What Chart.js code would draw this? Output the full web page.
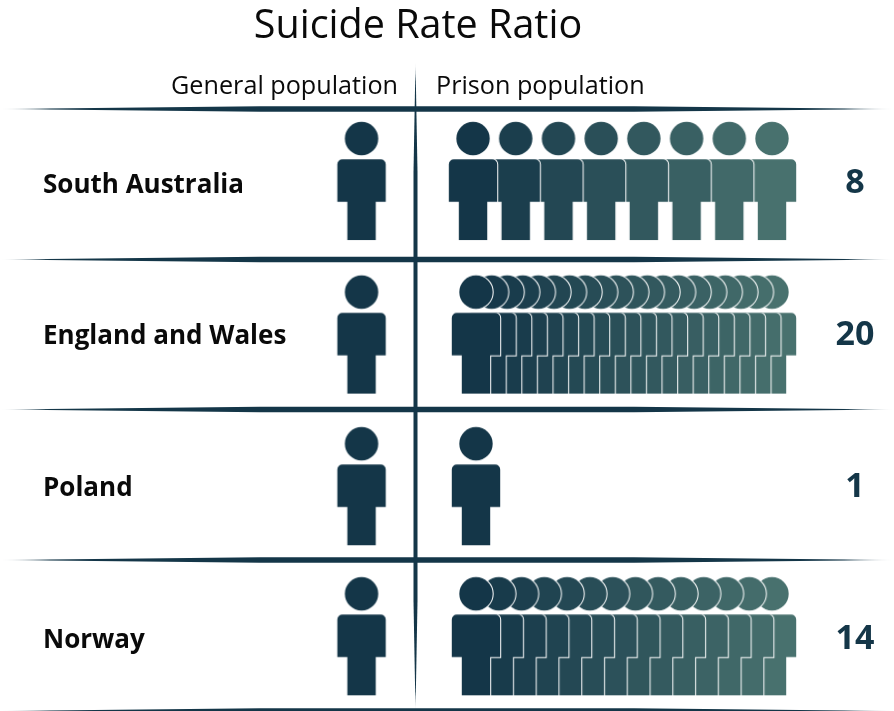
<!DOCTYPE html>
<html>
<head>
<meta charset="utf-8">
<title>Suicide Rate Ratio</title>
<script src="https://cdn.jsdelivr.net/npm/chart.js@4"></script>
<style>
    html, body { margin: 0; padding: 0; background: #FFFFFF; }
    canvas { display: block; }
</style>
</head>
<body>
<canvas id="ratioChart" width="894" height="711"></canvas>
<script>
const chartTitle = 'Suicide Rate Ratio';
const columnHeaders = ['General population', 'Prison population'];
const countries = ['South Australia', 'England and Wales', 'Poland', 'Norway'];
const generalRatio = [1, 1, 1, 1];
const prisonRatio = [8, 20, 1, 14];

// Layout: x runs 0..1 from the first to the last prison figure, y is the row index
const GENERAL_X = -0.3868;
const ROW_SHIFT = [-0.027, -0.016, -0.018, -0.03];
const PRISON_START = [-0.01, 0, 0, 0];
const RULES_Y = [109, 259.5, 409.5, 560, 711];
const ROW_MIN = -1.1463;
const ROW_MAX = 3.3893;
const RATIO_MIN = -1.1331;
const RATIO_MAX = 3.4025;
const DARK = [20, 54, 72];
const LIGHT = [72, 113, 110];
const INK = 'rgb(20, 54, 72)';
const FONT = "'Open Sans', Lato, sans-serif";

// One figure, drawn once per colour and used as a point style
function personIcon(color) {
    const icon = document.createElement('canvas');
    icon.width = 54;
    icon.height = 126;
    const c = icon.getContext('2d');
    c.translate(27, 63);

    c.beginPath();
    c.arc(0, -42.5, 16.7, 0, Math.PI * 2);
    c.moveTo(-19.2, -21.7);
    c.lineTo(19.2, -21.7);
    c.arcTo(24.2, -21.7, 24.2, -16.7, 5);
    c.lineTo(24.2, 20.7);
    c.lineTo(14.2, 20.7);
    c.lineTo(14.2, 59);
    c.lineTo(-14.2, 59);
    c.lineTo(-14.2, 20.7);
    c.lineTo(-24.2, 20.7);
    c.lineTo(-24.2, -16.7);
    c.arcTo(-24.2, -21.7, -19.2, -21.7, 5);
    c.closePath();

    c.strokeStyle = '#FFFFFF';
    c.lineWidth = 2;
    c.stroke();
    c.fillStyle = color;
    c.fill();
    return icon;
}

function shade(t) {
    const rgb = DARK.map((d, k) => Math.round(d + (LIGHT[k] - d) * t));
    return 'rgb(' + rgb.join(',') + ')';
}

const generalPoints = [];
const generalStyles = [];
countries.forEach((name, row) => {
    for (let i = 0; i < generalRatio[row]; i++) {
        generalPoints.push({ x: GENERAL_X, y: row + ROW_SHIFT[row] });
        generalStyles.push(personIcon(shade(0)));
    }
});

// Front figure is the first one, so each row goes back to front
const prisonSets = countries.map((name, row) => {
    const n = prisonRatio[row];
    const points = [];
    const styles = [];
    for (let i = n - 1; i >= 0; i--) {
        const t = n > 1 ? i / (n - 1) : 0;
        const start = PRISON_START[row];
        points.push({ x: start + (1 - start) * t, y: row + ROW_SHIFT[row] });
        styles.push(personIcon(shade(t)));
    }
    return { label: name, data: points, pointStyle: styles, pointRadius: 10, showLine: false };
});

function taperedRule(c, x0, y0, x1, y1, half, ramp, fade) {
    const len = Math.hypot(x1 - x0, y1 - y0);
    const ux = (x1 - x0) / len, uy = (y1 - y0) / len;
    const nx = -uy * half, ny = ux * half;
    const ax = x0 + ux * ramp, ay = y0 + uy * ramp;
    const bx = x1 - ux * ramp, by = y1 - uy * ramp;
    const grad = c.createLinearGradient(x0, y0, x1, y1);
    const edge = fade / len;
    grad.addColorStop(0, 'rgba(20, 54, 72, 0)');
    grad.addColorStop(edge, INK);
    grad.addColorStop(1 - edge, INK);
    grad.addColorStop(1, 'rgba(20, 54, 72, 0)');
    c.fillStyle = grad;
    c.beginPath();
    c.moveTo(x0, y0);
    c.lineTo(ax + nx, ay + ny);
    c.lineTo(bx + nx, by + ny);
    c.lineTo(x1, y1);
    c.lineTo(bx - nx, by - ny);
    c.lineTo(ax - nx, ay - ny);
    c.closePath();
    c.fill();
}

const headerPlugin = {
    id: 'headerPlugin',
    beforeDatasetsDraw(chart) {
        const c = chart.ctx;
        c.save();
        RULES_Y.forEach(y => taperedRule(c, 0, y, chart.width, y, 2.8, 260, 50));
        taperedRule(c, 415.5, 62, 415.5, 711, 2, 110, 20);
        c.restore();
    },
    afterDraw(chart) {
        const c = chart.ctx;
        c.save();
        c.fillStyle = '#0A0A0A';
        c.textBaseline = 'alphabetic';
        c.font = '39.5px ' + FONT;
        c.textAlign = 'center';
        c.fillText(chartTitle, 418, 38);
        c.font = '25.2px ' + FONT;
        c.textAlign = 'right';
        c.fillText(columnHeaders[0], 398, 94);
        c.textAlign = 'left';
        c.fillText(columnHeaders[1], 436, 94);
        c.restore();
    }
};

function rowTicks(scale) {
    scale.ticks = countries.map((name, row) => ({ value: row }));
}

function fitAxis(width) {
    return scale => {
        scale.width = width;
        scale.paddingTop = 0;
        scale.paddingBottom = 0;
    };
}

new Chart(document.getElementById('ratioChart'), {
    type: 'scatter',
    data: {
        datasets: [
            { label: columnHeaders[0], data: generalPoints, pointStyle: generalStyles, pointRadius: 10, showLine: false },
            ...prisonSets
        ]
    },
    options: {
        responsive: false,
        animation: false,
        layout: { padding: { left: 43, right: 0, top: 0, bottom: 0 } },
        plugins: {
            legend: { display: false },
            tooltip: { enabled: false },
            title: { display: false }
        },
        scales: {
            x: {
                type: 'linear',
                display: false,
                min: -0.5169,
                max: 1.1453
            },
            y: {
                type: 'linear',
                position: 'left',
                reverse: true,
                min: ROW_MIN,
                max: ROW_MAX,
                afterBuildTicks: rowTicks,
                afterFit: fitAxis(280),
                border: { display: false },
                grid: { display: false, drawTicks: false },
                ticks: {
                    autoSkip: false,
                    crossAlign: 'far',
                    color: '#0A0A0A',
                    font: { family: FONT, size: 26, weight: 'bold' },
                    callback: value => countries[value]
                }
            },
            ratio: {
                type: 'linear',
                position: 'right',
                reverse: true,
                min: RATIO_MIN,
                max: RATIO_MAX,
                afterBuildTicks: rowTicks,
                afterFit: fitAxis(79),
                border: { display: false },
                grid: { display: false, drawTicks: false },
                ticks: {
                    autoSkip: false,
                    crossAlign: 'center',
                    padding: 20.5,
                    color: INK,
                    font: { family: FONT, size: 34, weight: 'bold' },
                    callback: value => String(prisonRatio[value])
                }
            }
        }
    },
    plugins: [headerPlugin]
});
</script>
</body>
</html>
